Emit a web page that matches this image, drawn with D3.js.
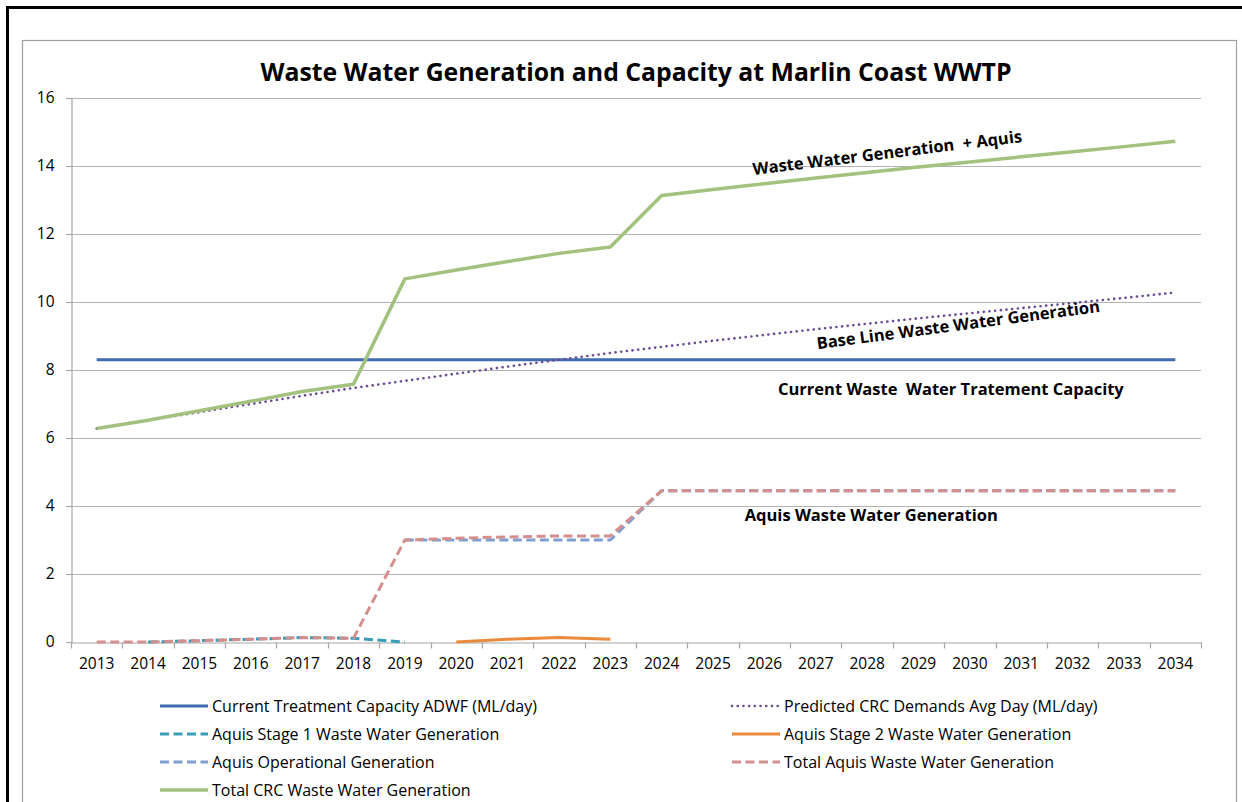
<!DOCTYPE html>
<html><head><meta charset="utf-8">
<script src="https://cdn.jsdelivr.net/npm/d3@7"></script>
<style>
html,body{margin:0;padding:0;background:#fff;}
svg{display:block;}
text{font-family:"Open Sans","Noto Sans",sans-serif;fill:#000;white-space:pre;}
</style></head>
<body>
<svg id="c" width="1242" height="802"></svg>
<script>
const years = ["2013","2014","2015","2016","2017","2018","2019","2020","2021","2022","2023","2024","2025","2026","2027","2028","2029","2030","2031","2032","2033","2034"];
const yTicks = [0,2,4,6,8,10,12,14,16];
const capacity = [8.3,8.3,8.3,8.3,8.3,8.3,8.3,8.3,8.3,8.3,8.3,8.3,8.3,8.3,8.3,8.3,8.3,8.3,8.3,8.3,8.3,8.3];
const predicted = [6.28,6.52,6.76,7.0,7.24,7.47,7.68,7.89,8.1,8.3,8.5,8.68,8.86,9.03,9.2,9.36,9.52,9.67,9.82,9.97,10.12,10.28];
const stage1 = [null,0,0.04,0.08,0.13,0.11,0,null,null,null,null,null,null,null,null,null,null,null,null,null,null,null];
const stage2 = [null,null,null,null,null,null,null,0,0.08,0.13,0.08,null,null,null,null,null,null,null,null,null,null,null];
const operational = [null,null,null,null,null,null,3.0,3.0,3.0,3.0,3.0,4.45,4.45,4.45,4.45,4.45,4.45,4.45,4.45,4.45,4.45,4.45];
const totalAquis = [0,0,0.04,0.08,0.13,0.11,3.0,3.05,3.09,3.12,3.12,4.45,4.45,4.45,4.45,4.45,4.45,4.45,4.45,4.45,4.45,4.45];
const totalCRC = [6.28,6.52,6.8,7.08,7.37,7.58,10.68,10.94,11.19,11.43,11.62,13.13,13.31,13.48,13.65,13.81,13.97,14.12,14.27,14.42,14.57,14.73];
const seriesNames = ["Current Treatment Capacity ADWF (ML/day)","Predicted CRC Demands Avg Day (ML/day)","Aquis Stage 1 Waste Water Generation","Aquis Stage 2 Waste Water Generation","Aquis Operational Generation","Total Aquis Waste Water Generation","Total CRC Waste Water Generation"];
const title = "Waste Water Generation and Capacity at Marlin Coast WWTP";
const annotations = [
  {text:"Waste Water Generation  + Aquis", yr:2028.39, v:14.41, rot:-7},
  {text:"Base Line Waste Water Generation", yr:2029.77, v:9.35, rot:-7.5},
  {text:"Current Waste  Water Tratement Capacity", yr:2029.63, v:7.47, rot:0},
  {text:"Aquis Waste Water Generation", yr:2028.08, v:3.76, rot:0}
];

const styles = [
  {color:"#3F6DB0", w:3, dash:null, cap:"butt"},
  {color:"#6A4C93", w:2.6, dash:"0.1,5.6", cap:"round"},
  {color:"#3A9DB8", w:3, dash:"9,4.5", cap:"butt"},
  {color:"#E98A3C", w:3, dash:null, cap:"butt"},
  {color:"#7F9ED2", w:3, dash:"9,4.5", cap:"butt"},
  {color:"#D48F8D", w:3, dash:"9,4.5", cap:"butt"},
  {color:"#A2C27E", w:3.5, dash:null, cap:"butt"}
];
const data = [capacity,predicted,stage1,stage2,operational,totalAquis,totalCRC];

const svg = d3.select("#c");
svg.append("rect").attr("x",7.5).attr("y",7.5).attr("width",1260).attr("height",820)
  .attr("fill","none").attr("stroke","#000").attr("stroke-width",3);
svg.append("rect").attr("x",22.5).attr("y",40.5).attr("width",1214).attr("height",790)
  .attr("fill","#fff").attr("stroke","#A0A0A0").attr("stroke-width",1.2);

const x = d3.scaleBand().domain(years).range([71,1201]).paddingInner(0).paddingOuter(0);
const y = d3.scaleLinear().domain([0,16]).range([642,98]);
const bw = x.bandwidth();
const xc = d => x(d)+bw/2;
const xl = d3.scaleLinear().domain([2013,2034]).range([xc("2013"), xc("2034")]);

svg.append("g").selectAll("line").data(yTicks.filter(t=>t>0)).join("line")
  .attr("x1",66).attr("x2",1201).attr("y1",d=>Math.round(y(d))+0.5).attr("y2",d=>Math.round(y(d))+0.5)
  .attr("stroke","#B3B3B3").attr("stroke-width",1.2);

const ya = svg.append("g").attr("transform","translate(71.5,0)")
  .call(d3.axisLeft(y).tickValues(yTicks).tickSize(5).tickPadding(12).tickFormat(d3.format("d")));
ya.select(".domain").attr("stroke","#A6A6A6").attr("stroke-width",1.2);
ya.selectAll(".tick line").attr("stroke","#A6A6A6").attr("stroke-width",1.2);
ya.selectAll("text").style("font-size","15.5px").attr("fill","#000");

const xa = svg.append("g").attr("transform","translate(0,642.5)")
  .call(d3.axisBottom(x).tickSize(0).tickPadding(15));
xa.select(".domain").attr("stroke","#A6A6A6").attr("stroke-width",1.2);
xa.selectAll("text").style("font-size","15.5px").attr("fill","#000");
const bounds = years.map(d=>x(d)).concat([x("2034")+bw]);
xa.append("g").selectAll("line").data(bounds).join("line")
  .attr("x1",d=>Math.round(d)+0.5).attr("x2",d=>Math.round(d)+0.5).attr("y1",0).attr("y2",6)
  .attr("stroke","#A6A6A6").attr("stroke-width",1.2);

const line = d3.line().defined(d=>d[1]!=null).x(d=>xc(d[0])).y(d=>y(d[1]));
data.forEach((vals,i)=>{
  const s = styles[i];
  const pts = years.map((yr,j)=>[yr,vals[j]]);
  svg.append("path").attr("d",line(pts)).attr("fill","none")
    .attr("stroke",s.color).attr("stroke-width",s.w)
    .attr("stroke-dasharray",s.dash).attr("stroke-linecap",s.cap).attr("stroke-linejoin","round");
});

svg.append("text").attr("x",636).attr("y",81).attr("text-anchor","middle")
  .style("font-size","24.8px").style("font-weight","bold").text(title);

annotations.forEach(a=>{
  const px = xl(a.yr), py = y(a.v);
  svg.append("text").attr("transform",`translate(${px},${py}) rotate(${a.rot})`)
    .attr("text-anchor","middle").attr("dominant-baseline","central")
    .style("font-size","16.5px").style("font-weight","bold").text(a.text);
});

const legCols = [158, 730];
const legRows = [706, 734, 762, 790];
seriesNames.forEach((name,i)=>{
  const s = styles[i];
  const lx = legCols[i%2], ly = legRows[Math.floor(i/2)];
  const g = svg.append("g").attr("transform",`translate(${lx},${ly})`);
  g.append("line").attr("x1",2).attr("x2",50).attr("y1",0).attr("y2",0)
    .attr("stroke",s.color).attr("stroke-width",s.w)
    .attr("stroke-dasharray",s.dash).attr("stroke-linecap",s.cap);
  g.append("text").attr("x",54).attr("y",0).attr("dominant-baseline","central")
    .style("font-size","16px").text(name);
});
</script>
</body></html>
